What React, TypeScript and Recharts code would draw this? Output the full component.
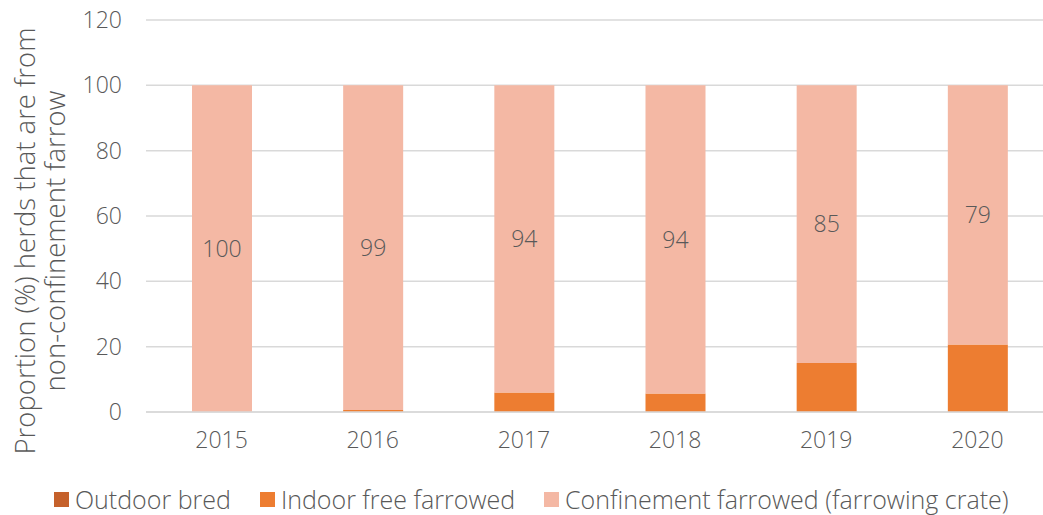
import { BarChart, Bar, XAxis, YAxis, CartesianGrid, Legend, LabelList } from 'recharts';

const years = ['2015', '2016', '2017', '2018', '2019', '2020'];
const outdoorBred = [0, 0, 0, 0, 0, 0];
const indoorFree = [0, 0.6, 6, 5.7, 15, 20.7];
const confinement = [100, 99.4, 94, 94.3, 85, 79.3];
const yTicks = [0, 20, 40, 60, 80, 100, 120];
const seriesOrder = ['Outdoor bred', 'Indoor free farrowed', 'Confinement farrowed (farrowing crate)'];

const data = years.map((year, i) => ({
    year,
    outdoor: outdoorBred[i],
    indoor: indoorFree[i],
    confinement: confinement[i],
}));

const FONT = '"Open Sans", sans-serif';
const TEXT = '#595959';

const renderLegend = (props: any) => {
    const items = [...props.payload].sort(
        (a: any, b: any) => seriesOrder.indexOf(a.value) - seriesOrder.indexOf(b.value)
    );
    return (
        <div style={{ display: 'flex', alignItems: 'center', fontFamily: FONT, fontWeight: 300, fontSize: 25, lineHeight: '25px', color: TEXT, whiteSpace: 'nowrap' }}>
            {items.map((entry: any, i: number) => (
                <div key={i} style={{ display: 'flex', alignItems: 'center', marginRight: 29 }}>
                    <span style={{ width: 15, height: 15, background: entry.color, display: 'inline-block', marginRight: 6 }} />
                    <span>{entry.value}</span>
                </div>
            ))}
        </div>
    );
};

const renderYLabel = (props: any) => {
    const vb = props.viewBox;
    const cy = vb.y + vb.height / 2 + 25;
    const x1 = vb.x + 24;
    const x2 = vb.x + 54;
    return (
        <g fill={TEXT} style={{ fontFamily: FONT, fontWeight: 300, fontSize: 27.5 }}>
            <text x={x1} y={cy} textAnchor="middle" dominantBaseline="central" transform={`rotate(-90 ${x1} ${cy})`}>
                Proportion (%) herds that are from
            </text>
            <text x={x2} y={cy} textAnchor="middle" dominantBaseline="central" transform={`rotate(-90 ${x2} ${cy})`}>
                non-confinement farrow
            </text>
        </g>
    );
};

export default function App() {
    return (
        <div style={{ position: 'fixed', top: 0, left: 0, width: 1043, height: 515, overflow: 'hidden', background: '#fff' }}>
            <BarChart
                width={1060}
                height={515}
                data={data}
                margin={{ top: 20, right: 7, left: 0, bottom: 43 }}
                barSize={60}
            >
                <CartesianGrid vertical={false} stroke="#D9D9D9" strokeWidth={1.5} />
                <XAxis
                    dataKey="year"
                    height={60}
                    axisLine={{ stroke: '#D9D9D9', strokeWidth: 1.5 }}
                    tickLine={false}
                    tickSize={0}
                    tickMargin={20}
                    tick={{ fill: TEXT, fontSize: 23, fontFamily: FONT, fontWeight: 300 }}
                />
                <YAxis
                    width={146}
                    domain={[0, 120]}
                    ticks={yTicks}
                    axisLine={false}
                    tickLine={false}
                    tickSize={0}
                    tickMargin={24}
                    tick={{ fill: TEXT, fontSize: 23, fontFamily: FONT, fontWeight: 300 }}
                    label={renderYLabel}
                />
                <Legend
                    layout="horizontal"
                    verticalAlign="middle"
                    align="center"
                    wrapperStyle={{ top: 487, left: 54 }}
                    content={renderLegend}
                />
                <Bar dataKey="outdoor" name="Outdoor bred" stackId="a" fill="#C5612B" isAnimationActive={false} />
                <Bar dataKey="indoor" name="Indoor free farrowed" stackId="a" fill="#ED7D31" isAnimationActive={false} />
                <Bar dataKey="confinement" name="Confinement farrowed (farrowing crate)" stackId="a" fill="#F4B8A4" isAnimationActive={false}>
                    <LabelList
                        dataKey="confinement"
                        position="center"
                        formatter={(v: any) => Math.round(Number(v))}
                        fill={TEXT}
                        style={{ fontSize: 23, fontFamily: FONT, fontWeight: 300 }}
                    />
                </Bar>
            </BarChart>
        </div>
    );
}
